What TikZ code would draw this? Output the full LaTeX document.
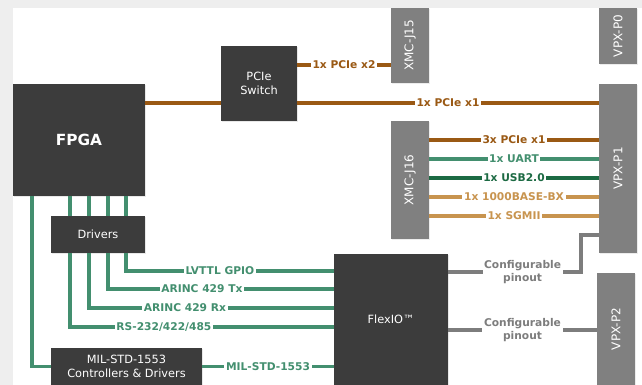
\documentclass[tikz,border=0pt]{standalone}
\usepackage{fontspec}
\setmainfont{DejaVu Sans}
\usetikzlibrary{positioning,calc,shadows}
\definecolor{vpxbg}{HTML}{EEEEEE}
\definecolor{vpxdark}{HTML}{3C3C3C}
\definecolor{vpxgray}{HTML}{808080}
\definecolor{vpxbrown}{HTML}{9A5914}
\definecolor{vpxgreen}{HTML}{438F6F}
\definecolor{vpxusb}{HTML}{1C6A43}
\definecolor{vpxtan}{HTML}{C8944F}
\definecolor{vpxpin}{HTML}{7D7D7D}

\begin{document}
\begin{tikzpicture}[
    x=0.75pt, y=-0.75pt,
    font=\fontsize{8.5}{10.5}\selectfont,
    block/.style={
        fill=vpxdark,
        text=white,
        align=center,
        inner sep=0pt,
        drop shadow={shadow xshift=1pt,shadow yshift=-1pt,opacity=0.18}
    },
    port/.style={
        fill=vpxgray,
        text=white,
        inner sep=0pt,
        minimum width=28.5pt,
        font=\fontsize{9}{10}\selectfont,
        drop shadow={shadow xshift=1pt,shadow yshift=-1pt,opacity=0.15}
    },
    link/.style={line width=2.6pt},
    tag/.style={
        fill=white,
        font=\bfseries\fontsize{8}{9.5}\selectfont,
        inner xsep=1.2pt,
        inner ysep=0.6pt
    },
    pcie/.style={link,vpxbrown},
    io/.style={link,vpxgreen},
    usb/.style={link,vpxusb},
    eth/.style={link,vpxtan},
    pin/.style={link,vpxpin}
]

% Page background
\fill[vpxbg] (0,0) rectangle (642,385);
\fill[white] (13,8) rectangle (642,385);
\useasboundingbox (0,0) rectangle (642,385);

% Processing blocks
\node[block,minimum width=99pt,minimum height=84pt,font=\bfseries\fontsize{11.5}{13}\selectfont] (fpga) at (79,140) {FPGA};
\node[block,minimum width=57pt,minimum height=56.25pt] (sw) at (259,83.5) {PCIe\\Switch};
\node[block,minimum width=70.5pt,minimum height=27.75pt] (drv) at (98,234.5) {Drivers};
\node[block,minimum width=85.5pt,minimum height=98.25pt] (flex) at (391,319.5) {FlexIO™};
\node[block,minimum width=113.25pt,minimum height=27.75pt] (mil) at (126.5,366.5) {MIL-STD-1553\\Controllers \& Drivers};

% Connectors
\node[port,minimum height=56.25pt] (j15) at (410,45.5) {\rotatebox{90}{XMC-J15}};
\node[port,minimum height=88.5pt] (j16) at (410,180) {\rotatebox{90}{XMC-J16}};
\node[port,minimum height=42pt] (p0) at (618,36) {\rotatebox{90}{VPX-P0}};
\node[port,minimum height=126.75pt] (p1) at (618,168.5) {\rotatebox{90}{VPX-P1}};
\node[port,minimum height=84pt] (p2) at (616,329) {\rotatebox{90}{VPX-P2}};

% PCIe links
\draw[pcie] (fpga.east |- 0,103) -- (sw.west |- 0,103);
\draw[pcie] (sw.east |- 0,65) -- node[tag] {1x PCIe x2} (j15.west |- 0,65);
\draw[pcie] (sw.east |- 0,103) -- node[tag] {1x PCIe x1} (p1.west |- 0,103);

% XMC-J16 to VPX-P1
\draw[pcie] (j16.east |- 0,140) -- node[tag] {3x PCIe x1} (p1.west |- 0,140);
\draw[io] (j16.east |- 0,159) -- node[tag] {1x UART} (p1.west |- 0,159);
\draw[usb] (j16.east |- 0,178) -- node[tag] {1x USB2.0} (p1.west |- 0,178);
\draw[eth] (j16.east |- 0,197) -- node[tag] {1x 1000BASE-BX} (p1.west |- 0,197);
\draw[eth] (j16.east |- 0,216) -- node[tag] {1x SGMII} (p1.west |- 0,216);

% FPGA to drivers and 1553
\foreach \x in {70,89,108,126}
    \draw[io] (fpga.south -| \x,0) -- (drv.north -| \x,0);
\draw[io] (fpga.south -| 32,0) |- (mil.west);

% Drivers to FlexIO
\draw[io] (drv.south -| 126,0) |- node[tag,pos=0.726] {LVTTL GPIO} (flex.west |- 0,271);
\draw[io] (drv.south -| 108,0) |- node[tag,pos=0.708] {ARINC 429 Tx} (flex.west |- 0,289);
\draw[io] (drv.south -| 89,0) |- node[tag,pos=0.696] {ARINC 429 Rx} (flex.west |- 0,308);
\draw[io] (drv.south -| 70,0) |- node[tag,pos=0.678] {RS-232/422/485} (flex.west |- 0,327);
\draw[io] (mil.east) -- node[tag] {MIL-STD-1553} (flex.west |- mil.east);

% FlexIO to VPX
\coordinate (pinbend) at (581,235);
\draw[pin] (flex.east |- 0,272) -| node[tag,align=center,pos=0.28,inner ysep=0pt] {Configurable\\pinout} (pinbend) -- (p1.west |- pinbend);
\draw[pin] (flex.east |- 0,330) -- node[tag,align=center,inner ysep=0pt] {Configurable\\pinout} (p2.west |- 0,330);

\end{tikzpicture}
\end{document}
